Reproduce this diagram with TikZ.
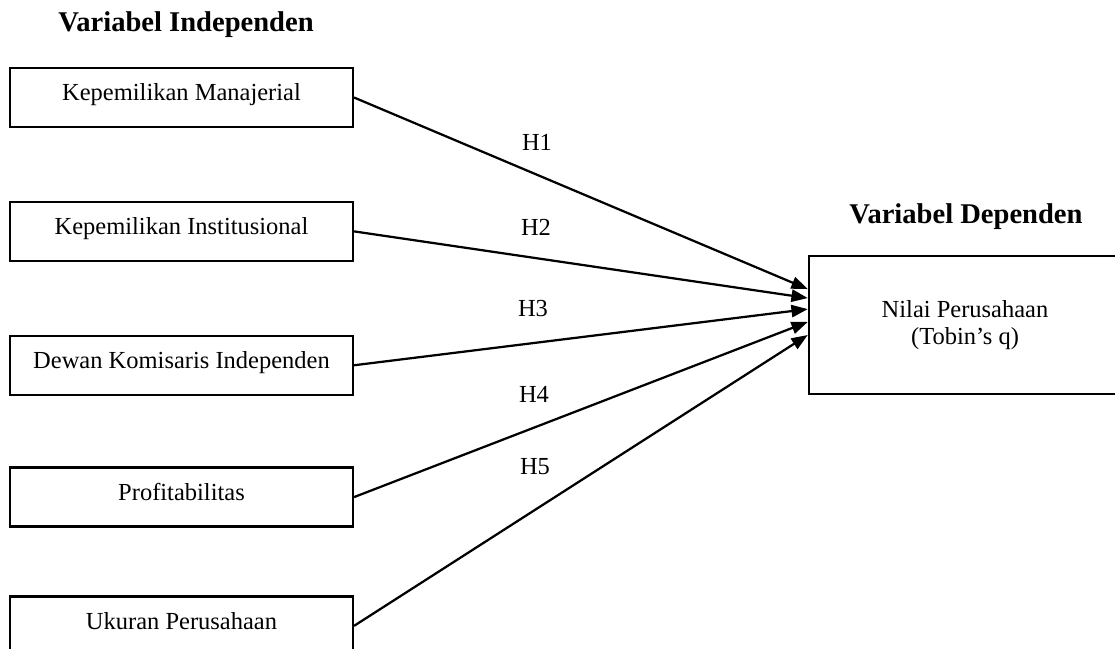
\documentclass[tikz,border=0pt]{standalone}
\usepackage{fontspec}
\setmainfont{Liberation Serif}
\usetikzlibrary{arrows.meta, positioning}

\begin{document}
\begin{tikzpicture}[
    x=0.49pt, y=-0.49pt,
    varbox/.style={draw, line width=1.1pt, minimum width=168pt, minimum height=28.9pt, inner sep=0pt, text height=8pt, text depth=4.6pt, font=\fontsize{12}{14}\selectfont},
    depbox/.style={draw, line width=1.1pt, minimum width=153pt, minimum height=67.6pt, inner sep=0pt, align=center, font=\fontsize{12}{13.5}\selectfont},
    hyp/.style={font=\fontsize{12}{14}\selectfont},
    title/.style={font=\fontsize{14}{17}\selectfont\bfseries},
    arr/.style={-{Triangle[length=8pt,width=6pt]}, line width=1.1pt},
  ]
  \useasboundingbox (0,0) rectangle (1115,648);
  % independent side
  \node[title] (tind) at (186,25) {Variabel Independen};
  \node[varbox] (km) at (181.5,97.5) {Kepemilikan Manajerial};
  \node[varbox, below=35.6pt of km] (ki) {Kepemilikan Institusional};
  \node[varbox, below=35.6pt of ki] (dk) {Dewan Komisaris Independen};
  \node[varbox, below=34.6pt of dk] (pr) {Profitabilitas};
  \node[varbox, below=33.1pt of pr] (up) {Ukuran Perusahaan};
  % dependent side
  \node[depbox] (np) at (965,325) {Nilai Perusahaan\\(Tobin’s q)};
  \node[title] (tdep) at (966,217) {Variabel Dependen};
  % hypotheses
  \draw[arr] (km.east) -- ([yshift=17.6pt]np.west);
  \draw[arr] (ki.east) -- ([yshift=13.2pt]np.west);
  \draw[arr] (dk.east) -- ([yshift=7.8pt]np.west);
  \draw[arr] (pr.east) -- ([yshift=1.5pt]np.west);
  \draw[arr] (up.east) -- ([yshift=-4.9pt]np.west);
  \node[hyp] (h1) at (537,142) {H1};
  \node[hyp] (h2) at (536,227) {H2};
  \node[hyp] (h3) at (533,309) {H3};
  \node[hyp] (h4) at (534,394) {H4};
  \node[hyp] (h5) at (535,467) {H5};
\end{tikzpicture}
\end{document}
